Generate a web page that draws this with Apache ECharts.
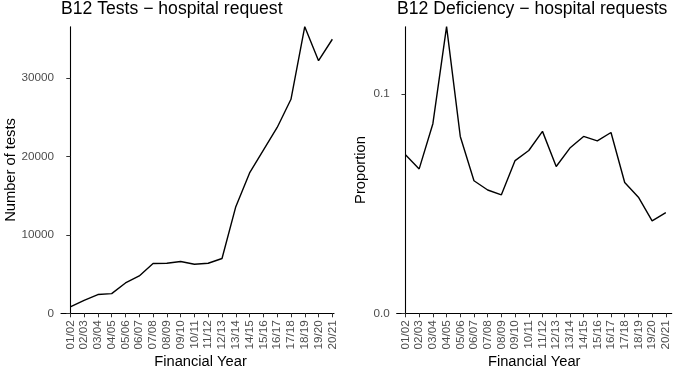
<!DOCTYPE html>
<html>
<head>
<meta charset="utf-8">
<script src="https://cdn.jsdelivr.net/npm/echarts@6/dist/echarts.min.js"></script>
<style>html,body{margin:0;padding:0;background:#fff}#c{width:677px;height:368px}</style>
</head>
<body>
<div id="c"></div>
<script>
const categories = ["01/02","02/03","03/04","04/05","05/06","06/07","07/08","08/09","09/10","10/11","11/12","12/13","13/14","14/15","15/16","16/17","17/18","18/19","19/20","20/21"];
const testCounts = [805,1660,2390,2515,3870,4765,6345,6385,6600,6260,6385,6985,13600,17900,20820,23700,27290,36550,32220,34950];
const deficiencyProportion = [0.0722,0.0658,0.0864,0.1306,0.0806,0.0604,0.0562,0.054,0.0696,0.0742,0.0829,0.0669,0.0753,0.0806,0.0786,0.0824,0.0596,0.0529,0.0421,0.0459];
const leftTicks = [0,10000,20000,30000];
const rightTicks = [0,0.1];

const idx = categories.map((c,i)=>i);
const FONT = "Liberation Sans, Arial, sans-serif";
const chart = echarts.init(document.getElementById('c'), null, {renderer:'canvas'});

function xAxisCfg(gridIndex, min, max, nameShift){
  return {
    type:'value', gridIndex, min, max,
    splitLine:{show:false},
    axisLine:{show:true, onZero:false, lineStyle:{color:'#000', width:1.1}},
    axisTick:{show:true, length:4, lineStyle:{color:'#333', width:1}, customValues: idx},
    axisLabel:{rotate:90, margin:7, color:'#4d4d4d', fontSize:11.7, fontFamily:FONT,
      customValues: idx, formatter: v => categories[Math.round(v)]},
    name:'Financial Year', nameLocation:'middle', nameGap:41, nameMoveOverlap:false,
    nameTextStyle:{color:'#000', fontSize:14.7, fontFamily:FONT, verticalAlign:'top', padding:[0,0,0,nameShift]}
  };
}
function yAxisCfg(gridIndex, ticks, name, nameGap, fmt){
  return {
    type:'value', gridIndex, min:0, max:'dataMax',
    splitLine:{show:false},
    axisLine:{show:true, lineStyle:{color:'#000', width:1.1}},
    axisTick:{show:true, length:4, lineStyle:{color:'#333', width:1}, customValues: ticks},
    axisLabel:{margin:7, color:'#4d4d4d', fontSize:11.7, fontFamily:FONT, customValues: ticks, formatter: fmt},
    name, nameLocation:'middle', nameGap, nameMoveOverlap:false,
    nameTextStyle:{color:'#000', fontSize:14.7, fontFamily:FONT}
  };
}

chart.setOption({
  animation:false,
  backgroundColor:'#fff',
  title:[
    {text:'B12 Tests \u2212 hospital request', left:61, top:0, padding:0,
     textStyle:{fontSize:17.6, fontWeight:'normal', color:'#000', fontFamily:FONT}},
    {text:'B12 Deficiency \u2212 hospital requests', left:397, top:0, padding:0,
     textStyle:{fontSize:17.6, fontWeight:'normal', color:'#000', fontFamily:FONT}}
  ],
  grid:[
    {left:61, top:26.7, width:273, height:286.6, outerBoundsMode:'none', containLabel:false},
    {left:396.7, top:26.7, width:275, height:286.6, outerBoundsMode:'none', containLabel:false}
  ],
  xAxis:[
    xAxisCfg(0, -0.674, 19.12, 6),
    xAxisCfg(1, -0.64, 19.43, 0)
  ],
  yAxis:[
    yAxisCfg(0, leftTicks, 'Number of tests', 43, v => String(v)),
    yAxisCfg(1, rightTicks, 'Proportion', 28, v => v.toFixed(1))
  ],
  series:[
    {type:'line', xAxisIndex:0, yAxisIndex:0, showSymbol:false, symbol:'none',
     lineStyle:{color:'#000', width:1.4}, data: testCounts.map((v,i)=>[i,v])},
    {type:'line', xAxisIndex:1, yAxisIndex:1, showSymbol:false, symbol:'none',
     lineStyle:{color:'#000', width:1.4}, data: deficiencyProportion.map((v,i)=>[i,v])}
  ]
});
</script>
</body>
</html>
